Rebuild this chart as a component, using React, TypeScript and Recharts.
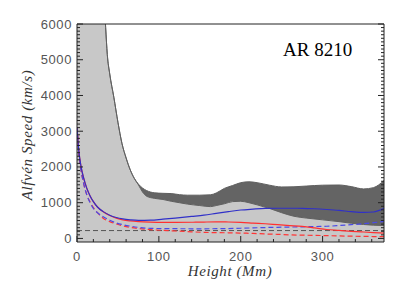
import { Area, ComposedChart, Line, ReferenceLine, XAxis, YAxis } from "recharts";

// Shaded band (light = below lower edge, dark = between edges)
const bandHeights = [0, 10, 20, 25, 30, 33, 35, 37, 40, 45, 50, 55, 60, 65, 70, 75, 80, 85, 95, 105, 115, 125, 135, 150, 163, 170, 180, 190, 200, 210, 220, 235, 250, 265, 280, 300, 320, 335, 350, 362, 375];
const bandUpper = [60000, 40000, 20000, 14000, 9000, 6800, 5900, 5150, 4600, 3950, 3250, 2650, 2250, 1920, 1680, 1520, 1410, 1340, 1275, 1262, 1255, 1225, 1210, 1210, 1220, 1270, 1400, 1480, 1560, 1585, 1560, 1490, 1440, 1445, 1465, 1490, 1495, 1450, 1385, 1420, 1620];
const bandLower = [60000, 40000, 20000, 14000, 9000, 6800, 5900, 5150, 4600, 3950, 3250, 2650, 2250, 1920, 1680, 1500, 1300, 1180, 1120, 1090, 1040, 1000, 960, 920, 890, 920, 970, 1030, 1040, 1000, 940, 840, 720, 620, 570, 520, 470, 425, 390, 370, 360];

// Model curves
const curveHeights = [0, 2, 5, 8, 12, 16, 20, 25, 32, 40, 48, 56, 65, 75, 90, 105, 120, 140, 155, 170, 185, 200, 215, 230, 245, 260, 275, 290, 305, 320, 335, 350, 362, 375];
const blueSolid = [3120, 2500, 2000, 1700, 1400, 1190, 1030, 880, 750, 650, 585, 545, 520, 505, 510, 540, 570, 615, 650, 700, 750, 795, 820, 840, 845, 845, 842, 830, 810, 785, 750, 728, 740, 840];
const redSolid = [3120, 2500, 2000, 1700, 1400, 1190, 1030, 880, 745, 640, 570, 520, 490, 470, 455, 450, 450, 452, 458, 462, 460, 450, 430, 410, 385, 360, 335, 295, 250, 225, 200, 180, 165, 150];
const blueDashed = [3120, 2450, 1900, 1550, 1220, 1000, 840, 720, 607, 510, 435, 385, 345, 310, 282, 275, 272, 270, 270, 272, 275, 285, 295, 305, 312, 318, 325, 333, 340, 360, 385, 410, 440, 475];
const redDashed = [3120, 2450, 1900, 1550, 1220, 1020, 860, 720, 565, 470, 405, 350, 310, 278, 245, 225, 208, 185, 170, 162, 158, 150, 140, 125, 115, 100, 92, 85, 78, 70, 63, 58, 53, 50];

const dashLevel = 220;

const xTicks = Array.from({ length: 19 }, (_, i) => i * 20);
const yTicks = Array.from({ length: 61 }, (_, i) => i * 100);

const Y_MIN = -100;

const bandData = bandHeights.map((h, i) => ({
  h,
  light: [Y_MIN, bandLower[i]],
  dark: [bandLower[i], bandUpper[i]],
}));
const curveData = curveHeights.map((h, i) => ({
  h,
  blueSolid: blueSolid[i],
  redSolid: redSolid[i],
  blueDashed: blueDashed[i],
  redDashed: redDashed[i],
}));

const tickFont = { fontFamily: "Liberation Sans, sans-serif", fontSize: 13, fill: "#555", letterSpacing: 0.6 };

function AxisTick(props: any) {
  const { x, y, payload, side } = props;
  const v = payload.value;
  const horiz = side === "bottom" || side === "top";
  const major = horiz ? v % 100 === 0 : v % 1000 === 0;
  const len = major ? 6 : 3;
  let line;
  if (side === "bottom") line = <line x1={x} y1={y} x2={x} y2={y - len} />;
  else if (side === "top") line = <line x1={x} y1={y} x2={x} y2={y + len} />;
  else if (side === "left") line = <line x1={x} y1={y} x2={x + len} y2={y} />;
  else line = <line x1={x} y1={y} x2={x - len} y2={y} />;
  return (
    <g stroke="#222" strokeWidth={1}>
      {line}
      {major && side === "bottom" && (
        <text x={x} y={y + 19} textAnchor="middle" stroke="none" style={tickFont}>
          {v}
        </text>
      )}
      {major && side === "left" && (
        <text x={x - 5} y={y + 4.5} textAnchor="end" stroke="none" style={tickFont}>
          {v}
        </text>
      )}
    </g>
  );
}

export default function App() {
  return (
    <div style={{ position: "absolute", left: 0, top: 0, width: 407, height: 291, background: "#fff" }}>
      <ComposedChart width={407} height={291} margin={{ top: 14, right: 13, bottom: 29, left: 37 }}>
        <XAxis
          type="number"
          dataKey="h"
          domain={[0, 375]}
          allowDataOverflow
          ticks={xTicks}
          interval={0}
          height={20}
          tickLine={false}
          tickSize={0}
          tickMargin={0}
          axisLine={{ stroke: "#222" }}
          tick={(p: any) => <AxisTick {...p} side="bottom" />}
        />
        <XAxis
          xAxisId="top"
          orientation="top"
          type="number"
          domain={[0, 375]}
          allowDataOverflow
          ticks={xTicks}
          interval={0}
          height={10}
          tickLine={false}
          tickSize={0}
          tickMargin={0}
          axisLine={{ stroke: "#222" }}
          tick={(p: any) => <AxisTick {...p} side="top" />}
        />
        <YAxis
          type="number"
          domain={[Y_MIN, 6000]}
          allowDataOverflow
          ticks={yTicks}
          interval={0}
          width={40}
          tickLine={false}
          tickSize={0}
          tickMargin={0}
          axisLine={{ stroke: "#222" }}
          tick={(p: any) => <AxisTick {...p} side="left" />}
        />
        <YAxis
          yAxisId="right"
          orientation="right"
          type="number"
          domain={[Y_MIN, 6000]}
          allowDataOverflow
          ticks={yTicks}
          interval={0}
          width={10}
          tickLine={false}
          tickSize={0}
          tickMargin={0}
          axisLine={{ stroke: "#222" }}
          tick={(p: any) => <AxisTick {...p} side="right" />}
        />
        <Area data={bandData} dataKey="light" type="monotone" fill="#c8c8c8" fillOpacity={1} stroke="none" isAnimationActive={false} />
        <Area data={bandData} dataKey="dark" type="monotone" fill="#646464" fillOpacity={1} stroke="#606060" strokeWidth={1} isAnimationActive={false} />
        <ReferenceLine y={dashLevel} stroke="#555" strokeDasharray="5 3" />
        <Line data={curveData} dataKey="redDashed" type="monotone" stroke="#ff3535" strokeWidth={1.2} strokeDasharray="5 3" dot={false} isAnimationActive={false} />
        <Line data={curveData} dataKey="blueDashed" type="monotone" stroke="#4a4ae8" strokeWidth={1.2} strokeDasharray="5 3" dot={false} isAnimationActive={false} />
        <Line data={curveData} dataKey="redSolid" type="monotone" stroke="#ff3030" strokeWidth={1.2} dot={false} isAnimationActive={false} />
        <Line data={curveData} dataKey="blueSolid" type="monotone" stroke="#3030c8" strokeWidth={1.2} dot={false} isAnimationActive={false} />
      </ComposedChart>
      <svg width={407} height={291} style={{ position: "absolute", left: 0, top: 0, pointerEvents: "none" }}>
        <text x={283} y={56} style={{ fontFamily: "Liberation Serif, serif", fontSize: 19, fill: "#000" }}>
          AR 8210
        </text>
        <text
          x={230}
          y={276}
          textAnchor="middle"
          style={{ fontFamily: "Liberation Serif, serif", fontStyle: "italic", fontSize: 15, fill: "#333", letterSpacing: 0.6 }}
        >
          Height (Mm)
        </text>
        <text
          transform="translate(32,135) rotate(-90)"
          textAnchor="middle"
          style={{ fontFamily: "Liberation Serif, serif", fontStyle: "italic", fontSize: 15, fill: "#333", letterSpacing: 0.6 }}
        >
          Alfvén Speed (km/s)
        </text>
      </svg>
    </div>
  );
}
